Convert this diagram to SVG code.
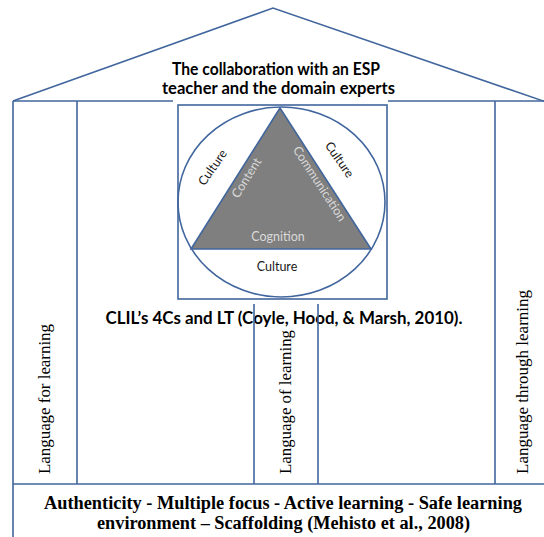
<svg xmlns="http://www.w3.org/2000/svg" width="544" height="537" viewBox="0 0 544 537">
  <style>
    .ln { fill: none; stroke: #41669d; stroke-width: 1.6; }
    .cal { font-family: Lato, "Open Sans", sans-serif; }
    .title { font-weight: bold; font-size: 16.5px; fill: #000; }
    .tri-lbl { font-size: 12.5px; }
    .dark { fill: #1a1a1a; }
    .light { fill: #d9d9d9; }
    .serif { font-family: "Liberation Serif", "Times New Roman", serif; font-size: 16px; fill: #000; }
    .base { font-family: "Liberation Serif", "Times New Roman", serif; font-size: 18px; font-weight: bold; fill: #000; }
  </style>

  <rect width="544" height="537" fill="#ffffff"/>

  <!-- roof -->
  <g id="roof">
    <polyline class="ln" points="13,101 273,8 552,104"/>
    <line class="ln" x1="13" y1="101" x2="173" y2="101"/>
    <line class="ln" x1="388" y1="101" x2="544" y2="101"/>
    <text class="cal title" x="276" y="75" text-anchor="middle" textLength="208" lengthAdjust="spacingAndGlyphs">The collaboration with an ESP</text>
    <text class="cal title" x="278.5" y="94" text-anchor="middle" textLength="233" lengthAdjust="spacingAndGlyphs">teacher and the domain experts</text>
  </g>

  <!-- left pillar -->
  <g id="pillar-left">
    <line class="ln" x1="13" y1="101" x2="13" y2="537"/>
    <line class="ln" x1="77" y1="101" x2="77" y2="484"/>
    <text class="serif" transform="translate(50,474) rotate(-90)" textLength="150" lengthAdjust="spacingAndGlyphs">Language for learning</text>
  </g>

  <!-- 4Cs model -->
  <g id="clil-4cs">
    <rect class="ln" x="178" y="105" width="209" height="194"/>
    <ellipse class="ln" cx="281.5" cy="202" rx="103.5" ry="95"/>
    <polygon points="280,108 191,249 371,249" fill="#7f7f7f" stroke="#41669d" stroke-width="1.6"/>
    <text class="cal tri-lbl dark" text-anchor="middle" transform="translate(216,170) rotate(-55)">Culture</text>
    <text class="cal tri-lbl light" text-anchor="middle" transform="translate(250,180) rotate(-58)">Content</text>
    <text class="cal tri-lbl light" text-anchor="middle" transform="translate(316,186) rotate(57)">Communication</text>
    <text class="cal tri-lbl dark" text-anchor="middle" transform="translate(336,162) rotate(55)">Culture</text>
    <text class="cal tri-lbl light" x="278" y="241" text-anchor="middle">Cognition</text>
    <text class="cal tri-lbl dark" x="277" y="271" text-anchor="middle">Culture</text>
  </g>

  <text id="clil-caption" class="cal title" x="284" y="324" text-anchor="middle" textLength="357" lengthAdjust="spacingAndGlyphs">CLIL’s 4Cs and LT (Coyle, Hood, &amp; Marsh, 2010).</text>

  <!-- middle pillar -->
  <g id="pillar-middle">
    <line class="ln" x1="254" y1="304" x2="254" y2="484"/>
    <line class="ln" x1="318" y1="304" x2="318" y2="484"/>
    <text class="serif" transform="translate(291,474) rotate(-90)" textLength="144" lengthAdjust="spacingAndGlyphs">Language of learning</text>
  </g>

  <!-- right pillar -->
  <g id="pillar-right">
    <line class="ln" x1="495" y1="101" x2="495" y2="484"/>
    <text class="serif" transform="translate(528,474) rotate(-90)" textLength="184" lengthAdjust="spacingAndGlyphs">Language through learning</text>
  </g>

  <!-- foundation -->
  <g id="foundation">
    <line class="ln" x1="13" y1="484" x2="544" y2="484"/>
    <text class="base" x="283" y="509" text-anchor="middle" textLength="478" lengthAdjust="spacingAndGlyphs">Authenticity - Multiple focus - Active learning - Safe learning</text>
    <text class="base" x="283.5" y="529" text-anchor="middle" textLength="373" lengthAdjust="spacingAndGlyphs">environment – Scaffolding (Mehisto et al., 2008)</text>
  </g>
</svg>
